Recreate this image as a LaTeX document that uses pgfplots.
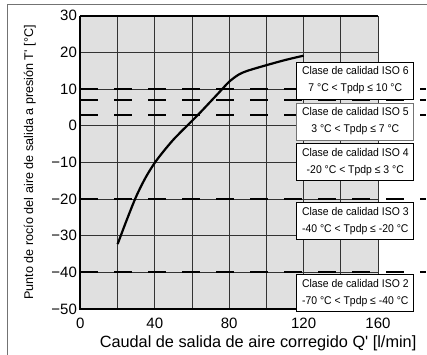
\documentclass[border=0pt]{standalone}
\usepackage{pgfplots}
\pgfplotsset{compat=1.18}
\usepackage{fontspec}
\setmainfont{Liberation Sans}
\newfontfamily\narrowfont{Liberation Sans}[FakeStretch=0.93]
\tikzset{box/.style={draw=black, fill=white, line width=0.8pt, minimum width=117pt, minimum height=37pt, align=center, inner sep=0pt, font=\narrowfont\fontsize{11.2}{17}\selectfont}}

\begin{document}
\begin{tikzpicture}
\useasboundingbox (-80.4pt,-45pt) rectangle (346.6pt,309pt);
\draw[black!55, line width=1pt] (-72.9pt,-46pt) -- (-72.9pt,304.5pt) -- (348pt,304.5pt);
\begin{axis}[
  at={(0,0)}, anchor=south west,
  scale only axis, width=297.6pt, height=293.3pt,
  xmin=0, xmax=160, ymin=-50, ymax=30,
  xtick={0,20,...,160},
  xticklabels={0,,40,,80,,120,,160},
  ytick={-50,-40,...,30},
  yticklabels={−50,−40,−30,−20,−10,0,10,20,30},
  grid=major,
  major grid style={line width=0.9pt, color=black!80},
  tick style={draw=none},
  axis line style={draw=none},
  axis background/.style={fill=black!12},
  clip=false,
  ticklabel style={font=\fontsize{15}{18}\selectfont},
  xticklabel style={yshift=-5pt},
  xlabel={Caudal de salida de aire corregido Q\textquotesingle{} [l/min]},
  ylabel={Punto de rocío del aire de salida a presión T\textquotesingle{} [°C]},
  xlabel style={at={(axis description cs:0.597,-0.1296)}, anchor=base, font=\fontsize{16.3}{19}\selectfont},
  ylabel style={at={(axis description cs:-0.170,0.5)}, anchor=center, font=\fontsize{12.6}{15}\selectfont},
]
% dashed class limits
\addplot[black, line width=2.2pt, dash pattern=on 18pt off 16pt] coordinates {(0,10) (186,10)};
\addplot[black, line width=2.2pt, dash pattern=on 18pt off 16pt] coordinates {(0,7) (186,7)};
\addplot[black, line width=2.2pt, dash pattern=on 18pt off 16pt] coordinates {(0,3) (186,3)};
\addplot[black, line width=2.2pt, dash pattern=on 18pt off 16pt] coordinates {(0,-20) (186,-20)};
\addplot[black, line width=2.2pt, dash pattern=on 18pt off 16pt] coordinates {(0,-40) (186,-40)};
% curve
\addplot[black, line width=2.2pt, smooth] coordinates {
(20,-32.3) (25,-25.6) (30,-19.3) (35,-14.2) (40,-10.1) (45,-6.8) (50,-3.8) (55,-1.2)
(60,1.3) (65,3.9) (70,6.6) (75,9.3) (80,12.0) (85,13.9) (90,15.0) (100,16.5) (110,17.9) (120,19.1)};
% frame
\draw[black, line width=2pt] (rel axis cs:0,1) -- (rel axis cs:0,0) -- (rel axis cs:1,0);
\draw[black, line width=2pt] (rel axis cs:0,1) -- (rel axis cs:1,1);
% class boxes
\node[box] at (axis cs:147.8,12.3) {Clase de calidad ISO 6\\7 °C < Tpdp ≤ 10 °C};
\node[box, draw=black!55] at (axis cs:147.8,1.15) {Clase de calidad ISO 5\\3 °C < Tpdp ≤ 7 °C};
\node[box] at (axis cs:147.8,-10.0) {Clase de calidad ISO 4\\-20 °C < Tpdp ≤ 3 °C};
\node[box] at (axis cs:147.8,-25.9) {Clase de calidad ISO 3\\-40 °C < Tpdp ≤ -20 °C};
\node[box] at (axis cs:147.8,-45.6) {Clase de calidad ISO 2\\-70 °C < Tpdp ≤ -40 °C};
\end{axis}
\end{tikzpicture}
\end{document}
